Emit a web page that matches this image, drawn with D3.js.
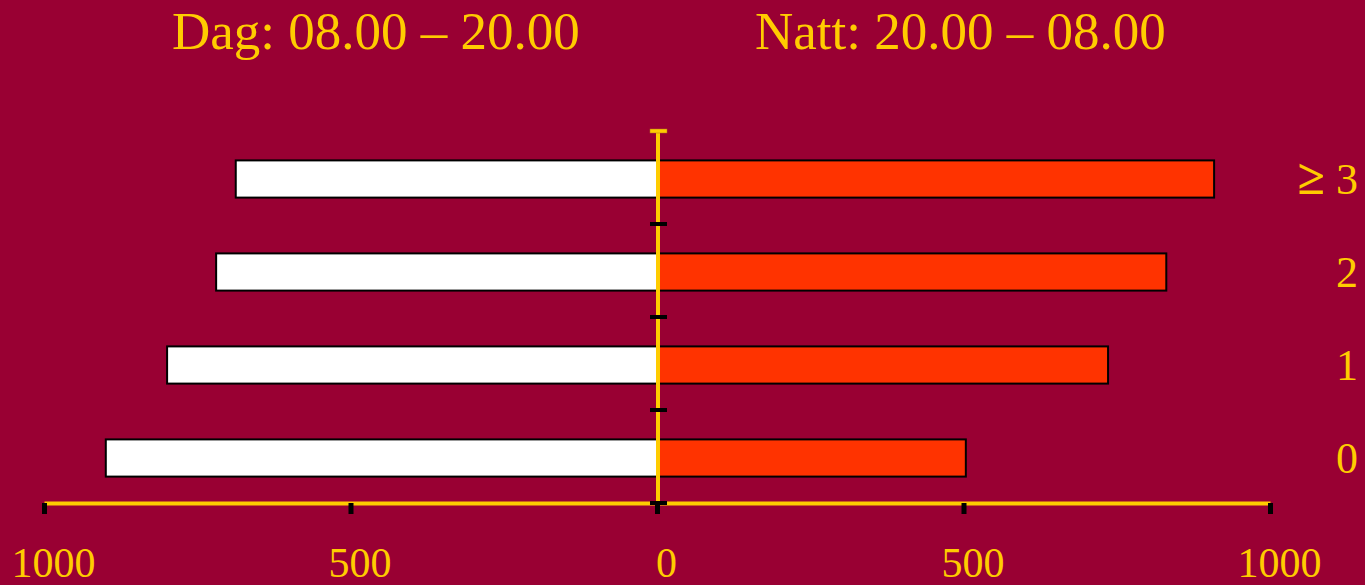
<!DOCTYPE html>
<html>
<head>
<meta charset="utf-8">
<script src="https://cdn.jsdelivr.net/npm/d3@7"></script>
<style>
  body { margin: 0; background: #990033; }
  svg { display: block; font-family: "Liberation Serif", "Times New Roman", serif; }
</style>
</head>
<body>
<div id="chart"></div>
<script>
// data
var categories = ["0", "1", "2", "≥ 3"];
var day_values = [900, 800, 720, 688];     // Dag: 08.00 – 20.00 (left, white)
var night_values = [503, 735, 830, 908];   // Natt: 20.00 – 08.00 (right, red)
var tick_values = [0, 500, 1000];
var titles = ["Dag: 08.00 – 20.00", "Natt: 20.00 – 08.00"];

var width = 1365, height = 585;
var center = 657.5;
var yellow = "#ffcc00";

var svg = d3
  .select("#chart")
  .append("svg")
  .attr("width", width)
  .attr("height", height);

svg.append("rect")
  .attr("width", width)
  .attr("height", height)
  .attr("fill", "#990033");

var x_left = d3.scaleLinear().domain([0, 1000]).range([center, 44.5]);
var x_right = d3.scaleLinear().domain([0, 1000]).range([center, 1270.5]);
var y = d3.scaleBand().domain(categories).range([504.5, 132.5]).paddingInner(0.6).paddingOuter(0.3);
var y_edges = d3.scaleLinear().domain([0, categories.length]).range([503, 131]);

var data = categories.map(function (c, i) {
  return { cat: c, day: day_values[i], night: night_values[i] };
});

// titles
svg.append("text")
  .attr("x", 172).attr("y", 49)
  .attr("fill", yellow).attr("font-size", 53)
  .text(titles[0]);
svg.append("text")
  .attr("x", 755).attr("y", 49)
  .attr("fill", yellow).attr("font-size", 53)
  .text(titles[1]);

// bars
svg.append("g")
  .selectAll("rect")
  .data(data)
  .enter()
  .append("rect")
  .attr("x", function (d) { return x_left(d.day); })
  .attr("y", function (d) { return y(d.cat); })
  .attr("width", function (d) { return center - x_left(d.day); })
  .attr("height", y.bandwidth())
  .attr("fill", "#ffffff")
  .attr("stroke", "#000")
  .attr("stroke-width", 2);

svg.append("g")
  .selectAll("rect")
  .data(data)
  .enter()
  .append("rect")
  .attr("x", center)
  .attr("y", function (d) { return y(d.cat); })
  .attr("width", function (d) { return x_right(d.night) - center; })
  .attr("height", y.bandwidth())
  .attr("fill", "#ff3300")
  .attr("stroke", "#000")
  .attr("stroke-width", 2);

// category labels on the right, the ≥ sign drawn heavier like the original
var cat_labels = svg.append("g")
  .selectAll("text")
  .data(categories)
  .enter()
  .append("text")
  .attr("x", 1358)
  .attr("y", function (d) { return y(d) + y.bandwidth() / 2 + 15; })
  .attr("text-anchor", "end")
  .attr("fill", yellow)
  .attr("font-size", 44);

cat_labels.each(function (d) {
  var t = d3.select(this);
  if (d.indexOf("≥") === 0) {
    t.append("tspan").attr("font-weight", "bold").attr("font-size", 50).text("≥");
    t.append("tspan").text(d.slice(1));
  } else {
    t.text(d);
  }
});

// x axis
svg.append("line")
  .attr("x1", x_left(1000)).attr("x2", x_right(1000))
  .attr("y1", 503.5).attr("y2", 503.5)
  .attr("stroke", yellow).attr("stroke-width", 4);

var ticks = [];
tick_values.forEach(function (v) {
  ticks.push(x_left(v));
  if (v > 0) ticks.push(x_right(v));
});

svg.append("g")
  .selectAll("rect")
  .data(ticks)
  .enter()
  .append("rect")
  .attr("x", function (d) { return d - 2.5; })
  .attr("y", 503)
  .attr("width", 5)
  .attr("height", 11)
  .attr("fill", "#000");

var tick_labels = tick_values.slice().reverse().map(function (v) { return { v: v, x: x_left(v) }; })
  .concat(tick_values.slice(1).map(function (v) { return { v: v, x: x_right(v) }; }));

svg.append("g")
  .selectAll("text")
  .data(tick_labels)
  .enter()
  .append("text")
  .attr("x", function (d) { return d.x + 9; })
  .attr("y", 577)
  .attr("text-anchor", "middle")
  .attr("fill", yellow)
  .attr("font-size", 42)
  .text(function (d) { return d.v; });

// y axis
svg.append("line")
  .attr("x1", 658).attr("x2", 658)
  .attr("y1", y_edges(categories.length)).attr("y2", y_edges(0))
  .attr("stroke", yellow).attr("stroke-width", 4);

svg.append("rect")
  .attr("x", 650).attr("y", y_edges(categories.length) - 2)
  .attr("width", 17).attr("height", 4)
  .attr("fill", yellow)
  .attr("stroke", "#b07020").attr("stroke-width", 0.5);

svg.append("g")
  .selectAll("rect")
  .data(d3.range(categories.length))
  .enter()
  .append("rect")
  .attr("x", 650)
  .attr("y", function (i) { return y_edges(i) - 2; })
  .attr("width", 17)
  .attr("height", 4)
  .attr("fill", "#000");
</script>
</body>
</html>
